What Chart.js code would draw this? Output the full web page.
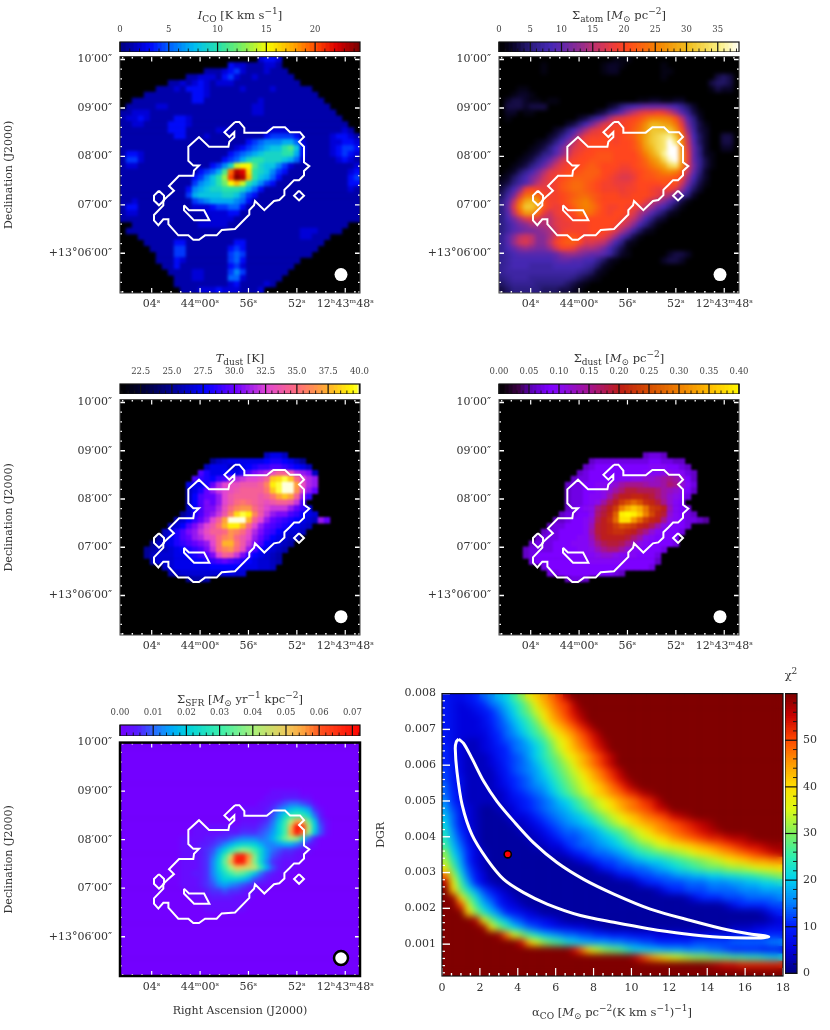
<!DOCTYPE html>
<html>
<head>
<meta charset="utf-8">
<script src="https://cdn.jsdelivr.net/npm/chart.js@4"></script>
<style>
body { margin: 0; background: #fff; width: 830px; height: 1030px; position: relative; overflow: hidden; }
canvas { position: absolute; }
.lbl { position: absolute; transform: translateX(-50%); white-space: nowrap; font: 11.5px "DejaVu Serif", serif; color: #333; }
.lbl sub, .lbl sup { font-size: 9px; line-height: 0; }
</style>
</head>
<body>
<script>
// map values, one string per row, one base-36 digit per cell (top row first)
const icoRows = [
"0000000000 0000000000 0002332000","0000000000 0000000032 2111221000","0000000000 0000111234 2111211100","0000000000 0112221342 1121111110",
"0000000011 2123212221 1111111111","0000001112 1333211111 2111121111 11","0000111111 1133211111 1111111111 111","0011111111 1133111111 1112111111 1111",
"0111112211 1111111111 1122111111 11111","1122211111 1111111111 1122111111 111111","1223211113 3211111111 1111111111 1111111","1122111133 3211111111 1111111111 11111111",
"1111111133 3111112211 1111122211 1111111210","1111111113 3111211111 1111344443 1111123321","1111111111 1111111111 1345666775 2111122332","1111111111 1111111112 3456788ab8 3111123443",
"1332111111 1111111134 5678999aa7 3111123432","1442111111 1111111345 79aa999875 2111112321","1221111111 1111134 69e ff b9886 421 1111111112","1111111111 1113457bjn mga9864311 1111111123",
"1111111111 11346 8adko nha87 53111 1111111134","1111111111 11467 8acfh ea864 31111 1111111133","1111111111 13678 99aaa 9753 111111 1111111121","1111111111 14788 88998 643 1111111 1111111111",
"1121111111 11456 77776 53 11111111 1111111111","1331111111 11222 34455 3 111111111 1111111111","1221111111 11112 22233 1111111111 1111111111","1111111111 1111122221 1111111111 1111111111",
"0011111111 1112222211 1111111111 11111111","0111111111 1111111111 1111111111 2221111","0001111111 1111111111 1111111111 22111","0000111113 3111111113 3111111111 1111",
"0000011114 4111111134 3111111111 111","0000001114 4111111145 4111111111 11","0000001113 2111111145 3111111111","0000000113 1111111134 211111111",
"0000000011 1122111146 41111111","0000000001 1122111155 2111111","0000000001 1111111123 111121","0000000000 1112223222 1112"];
const atomRows = [
"0000000000 0000000001 11","0000000100 0000000122 1000000100","0000000100 0000000122 0000000110","0000000000 0000000000 0000000100 0000003430",
"0000000000 0000000000 0000000000 0000034430","0001100000 0000000000 0000000000 0000013220","0012210000","0233211011 0000000000 0001122112 2",
"0333233300 0000000023 5789aaaa98 642","0220110000 0000002357 adfhiijigd 9631","0100000000 000235 7aeh ijklnpppol f952","0000000000 0235 8behij jklnqttsro ib631",
"0000000002 358behijjk kkmoruuuur ld732","0000000023 58bfijjkkj klmpsuvwxu of842 00330","0000001235 8bfijkkkkj kklosuvwzw pg942 00330","0000012358 behijkkkkk kklnrtvwzz qha52 00220",
"0000123569 cfijkklllk kkkmpsuxzz ria521","0001235 7ad gijkkllllk kkklnqsvyz ria631","0012357adg ijkklmlkkk jjklmoqsvw qhb631","012468behi jkklmmmkkj iijklmnpqp mga52",
"12468bdgij klmmmmlkji hhikllmmml jd842","23579cfhij lmnnmlkjji iijkkkklkl gb631","358cikjiij lmnnmlkjjj ijjkkjiijh d842","47bhnonkjj klmnnmlkkk jjkkkjigeb 852",
"59fnstrljj klnopnlkkk kkkkigec96 31","5ahpuuslji jkmopomkjj kjjhfda853 1","59fmrrnigi jjknonlkjk kjhec96421","58behihffh ijjkkkkkkk jhfc85320",
"579bceeefh iijjjkkkkj hfc853 1","579abbcdeg ijjjjkkkjh eb7421","69cfgfcceh kllkijjigd 9631","69dghfccfj lmmkhhgfc8 521",
"68acdcbbdg jjifeedb85 31","6789 99999ac ddcbaa9742 1000000233 2","6788888889 aa99886421 0000000233 2","6788877778 88887 64210",
"6777777777 7776542100","5677766666 6654321","4566665555 5432100","3455555444 3321"];
const tdustRows = ["","","","","","","","","",
"0000000000 0000000000 00008aa8","0000000000 0000068 9aa aaaabccba8 6","0000000000 00008aaa89 abcddeedcb a8","0000000000 000eca abba cegh ilnnli hg8","0000000000 00edcbdehi jkklnuvxuo kih",
"0000000000 0aaacfikll mmmnqwxzzs lih","0000000000 08acfhjklm nnnnpuxzzr khf","0000000000 08beffhkmn nnnmnpsusn hd","0000000000 08begfhkmo ponmlmnnmj e",
"0000000000 08beggiloq rromkjjjhf da","0000000000 68cegh jmqv xwqmjhgged ba9","0000000008 9bdfhknsyz ytnkhfedcb a98hf","0000000089 begikmptww tokhfedcba 98",
"0000000 89c eghjlnnorq olige dba99 8","000000 68ac efhiklo qro mkhfdba988","00000 689ac defghkottp mjgeba987","0000 67889a bcdegjoqro lheba9 87",
"0000 68999a abcdegknmj gdba9 87","00000 8999a aabbcdefed cba9987","0000000 89a aaaaabbbbb aaa998","00000000 78 9999999aa9 9","0000000000 06777"];
const sdustRows = ["","","","","","","","","",
"0000000000 0000000000 00005665","0000000000 0000056666 6666677665 5","0000000000 0000567777 7777788877 65","0000000000 0005677777 7777888998 865","0000000000 0056677777 889 9aabcdc a75",
"0000000000 0566778 89a cdddcbbced a86","0000000000 0566778 9ac eggfffecba 975","0000000000 056678 89cf hhiihgeca9 86","0000000000 0566789cfh kmomjigda8 7",
"0000000000 056789dfhk qtvtpkjhb8 76","0000000000 56677 9egin yzyvqliga8 765","0000000005 5677 8afhjo xxsokihd98 76654","0000000056 6777 8bghik mlkihfc987 76",
"0000000566 7777 8cghij jihfda8777 6","0000005666 7778 8bfhhh hgec987777","0000056667 7788 8adfgg fdb9877776","0000566667 7778 89bdee ca88777 6",
"0000567777 7777889aa9 888777 6","0000067777 7777788888 877777 5","0000000677 7777777777 777776","0000000066 7777777776 5","0000000000 05665"];
const sfrRows = ["","","","","","","","",
"0000000000 0000000000 0000011111","0000000000 0000000000 0000111222 11","0000000000 0000000000 0001123455 431","0000000000 0000000000 1111235 79a 973 1",
"0000000000 0000000000 111124 7bef eb52","0000000000 0000000000 11123 59ekr qh931","0000000000 0011111111 22234 6afqz wla41","0000000000 0011111222 33345 7afry tj941",
"0000000000 111122334 56665 68chk jc52","0000000000 111223468 abba8 66788 6421","0000000000 111234 7ae hjifb 75433 211","0000000000 111235 9fn xysib 74322 11",
"0000000000 111236 ahq yyrib 63211 1","0000000000 111236 afk ponle 84211","0000000000 112236 9cf hgd95 3211","0000000000 111235 8aa a9743 211",
"0000000000 111234 676 54321 1","0000000000 011123 343 321 1","0000000000 001112 222 111","0000000000 0000111 111 1","0000000000 0000111 111 1"];
const chiRows = [
"5445689bcf imoqsuxzzz zzzzzzzzzz zzzzzzzzzz zzzzz","54345689bd fimprtuxzz zzzzzzzzzz zzzzzzzzzz zzzzz","5433456 8ac fhknqsuwyz zzzzzzzzzz zzzzzzzzzz zzzzz","5433346 79b dfimprtvxz zzzzzzzzzz zzzzzzzzzz zzzzz",
"5433345 78a cegjnprtvx zzzzzzzzzz zzzzzzzzzz zzzzz","5433335 689 bdfhknprtv xzzzzzzzzz zzzzzzzzzz zzzzz","5432234 678 9bdfilnqsu wyzzzzzzzz zzzzzzzzzz zzzzz","6432234 568 9acehknprt vxzzzzzzzz zzzzzzzzzz zzzzz",
"6432223 567 8acegilnpr tvxzzzzzzz zzzzzzzzzz zzzzz","6532223 467 89bdfhjmpr tvxzzzzzzz zzzzzzzzzz zzzzz","7532222 457 89acegiknp rtvxzzzzzz zzzzzzzzzz zzzzz","7542222 356 78abdfhjlo qsuwyzzzzz zzzzzzzzzz zzzzz",
"8542222 346 789acegikm oqsuwyzzzz zzzzzzzzzz zzzzz","8642222 235 6789bdfhjl oprsuvxyzz zzzzzzzzzz zzzzz","9642222 234 56789bcegi kmoqrsuvxz zzzzzzzzzz zzzzz","a753211 223 56789abdfh jlnprstuwx zzzzzzzzzz zzzzz",
"b853211 123 34678 9abce gikmoprstu wxyzzzzzzz zzzzz","c853211 112 23467 89abc egikmopqrs tuvwxyzzzz zzzzz","d964211 111 22346 78 89a bdfgikmoqr stuvwxyzzz zzzzz","ea74211 111 12234 67789 abcegiklno qrstuvvwxx yzzzz",
"fb85311 111 11223 36788 9abcefhikl mnopqrstuv wwxyy","ic96321 111 11112 23567 889abdefgh ijkmnopqrs tuvwx","jea6321 111 11111 11235 67789abccd efghijkmno pqqrr","mgb7421 111 11111 11111 3567788 9ab cdefghhijj klmmn",
"sjd8531 111 11111 11111 112456 7788 9aabbccdde efghi","xmfa632 111 11111 11111 111112 466 77788 899 9aa bbccd","zohda75 321 11111 11111 11111 11124 66777 8888 99 9aaa","zynhd97 532 11111 11111 11111 11111 11246 66777 88889",
"zzukfb9 643 21111 11111 11111 11111 11111 11246 66677","zzzoieb 965 43211 11111 11111 11111 11111 11111 11246","zzzzxmh db8 75543 21111 11111 11111 11111 11111 11123","zzzzzyn ifc a8765 44332 21111 11111 11111 11122 23344",
"zzzzzzz ysl ifdba 98877 66555 44433 33333 44445 55666","zzzzzzz zzz wplig fdcba aa998 87766 66677 77788 88899","zzzzzzz zzz zzzzz zzwsn kihgecc bba aa99988 766 66555","zzzzzzz zzz zzzzz zzzzz zzzzzxurpn lkjiihggff eedcc",
"zzzzzzz zzz zzzzz zzzzz zzzzz zzzzz zzzzzyxwwv vvvvv","zzzzzzz zzz zzzzz zzzzz zzzzz zzzzz zzzzz zzzzz zzzzz"];

// colour scale stops: value, r, g, b
const icoStops = [[0,0,0,130],[1,0,0,170],[2,0,0,215],[3,0,10,250],[5,0,100,255],[7.5,0,190,240],[10,40,225,170],[12.5,130,240,90],[15,250,250,0],[17.5,255,170,0],[20,255,70,0],[22,220,0,0],[24.6,110,0,0]];
const atomStops = [[0,0,0,0],[2,10,5,40],[5,45,30,130],[8,70,40,180],[10,100,40,170],[13,150,45,140],[15,190,50,110],[18,235,60,60],[20,255,70,30],[25,245,130,0],[30,240,190,30],[35,250,240,130],[38.4,255,255,255]];
const tdustStops = [[20.85,0,0,0],[22.5,0,0,50],[25,0,0,150],[27.5,0,0,255],[30,110,0,255],[32.5,225,70,210],[35,255,110,120],[37.5,255,180,40],[39.5,255,255,0],[40.05,255,255,220]];
const sdustStops = [[0,0,0,0],[.03,60,0,70],[.05,90,0,180],[.08,125,0,255],[.1,135,10,240],[.15,165,20,140],[.2,190,30,20],[.25,215,80,0],[.3,240,130,0],[.35,255,190,0],[.4,255,250,0]];
const sfrStops = [[0,115,0,255],[.005,85,30,255],[.01,40,110,255],[.015,0,170,250],[.02,0,210,220],[.03,60,240,170],[.04,170,240,120],[.05,240,200,90],[.055,255,160,60],[.06,255,80,30],[.0723,255,0,0]];
const chiStops = [[0,0,0,130],[5,0,0,220],[10,0,30,255],[15,0,130,255],[20,0,210,240],[25,50,240,170],[30,130,240,90],[35,220,250,20],[40,255,220,0],[45,255,150,0],[50,255,70,0],[55,200,0,0],[60,120,0,0]];

// sky axes: RA seconds from 12h44m00s, Dec arcmin above +13 deg
const raTicks = [4, 0, -4, -8, -12];
const raLabels = ["04ˢ", "44ᵐ00ˢ", "56ˢ", "52ˢ", "12ʰ43ᵐ48ˢ"];
const decTicks = [10, 9, 8, 7, 6];
const decLabels = ["10′00″", "09′00″", "08′00″", "07′00″", "+13°06′00″"];

// white mask outline, RA seconds and Dec arcmin
const outerRa = [-2.89,-3.25,-3.66,-3.66,-5.51,-6.06,-7.02,-7.44,-8.26,-8.59,-8.18,-8.59,-8.59,-9.03,-8.59,-8.59,-8.18,-7.77,-7.38,-6.97,-6.97,-6.55,-6.11,-5.31,-4.54,-4.46,-4.07,-4.07,-2.89,-1.79,-1.37,-0.41,0.09,0.56,0.97,1.80,2.62,2.62,3.04,3.45,3.81,3.81,3.04,3.04,2.62,2.16,2.57,1.74,0.56,0.50,0.09,0.56,0.97,0.97,0.09,-0.74,-2.34,-2.42,-2.83,-2.83,-2.42,-2.01,-2.89];
const outerDec = [8.71,8.71,8.59,8.49,8.49,8.60,8.60,8.50,8.50,8.40,8.30,8.20,7.88,7.80,7.70,7.61,7.51,7.51,7.41,7.31,7.20,7.10,7.08,6.89,7.08,6.99,6.89,6.80,6.50,6.48,6.37,6.37,6.28,6.28,6.37,6.37,6.60,6.70,6.70,6.58,6.68,6.79,6.99,7.09,7.19,7.29,7.39,7.60,7.60,7.71,7.81,7.81,7.91,8.20,8.40,8.20,8.20,8.30,8.40,8.50,8.40,8.50,8.71];
const leftRa = [3.40,2.98,2.98,3.40,3.81,3.81,3.40];
const leftDec = [7.29,7.19,7.09,6.99,7.09,7.19,7.29];
const rightRa = [-8.18,-8.59,-8.18,-7.77,-8.18];
const rightDec = [7.29,7.19,7.09,7.19,7.29];
const innerRa = [1.33,0.92,-0.33,-0.77,0.50,1.33,1.33];
const innerDec = [6.99,6.89,6.89,6.68,6.68,6.89,6.99];

// chi-square panel
const alphaTicks = [0,2,4,6,8,10,12,14,16,18];
const dgrTicks = [.001,.002,.003,.004,.005,.006,.007,.008];
const dgrLabels = ["0.001","0.002","0.003","0.004","0.005","0.006","0.007","0.008"];
const loopAlpha = [.88,1.14,1.58,2.20,2.90,3.79,4.84,6.07,7.48,9.07,11.0,13.12,15.05,16.46,17.25,16.46,14.70,12.76,10.83,9.07,7.31,5.55,4.31,3.26,2.38,1.58,1.06,.79,.70,.76,.88];
const loopDgr = [.00673,.00661,.00619,.00555,.00499,.00443,.00383,.00328,.00281,.00240,.00198,.00166,.00140,.00127,.00121,.00117,.00119,.00129,.00144,.00161,.00180,.00212,.00244,.00281,.00337,.00406,.00490,.00582,.00647,.00666,.00673];
const bestAlpha = [3.47];
const bestDgr = [.00351];

// colour bar ticks
const icoBarTicks = [0,5,10,15,20];
const atomBarTicks = [0,5,10,15,20,25,30,35];
const tdustBarTicks = [22.5,25,27.5,30,32.5,35,37.5,40];
const sdustBarTicks = [0,.05,.1,.15,.2,.25,.3,.35,.4];
const sfrBarTicks = [0,.01,.02,.03,.04,.05,.06,.07];
const chiBarTicks = [0,10,20,30,40,50];

const serif = '"DejaVu Serif", serif';
const textColor = '#333';

function colorAt(stops, v) {
    if (v <= stops[0][0]) return `rgb(${stops[0].slice(1)})`;
    for (let i = 1; i < stops.length; i++) {
        if (v <= stops[i][0]) {
            const a = stops[i - 1], b = stops[i], t = (v - a[0]) / (b[0] - a[0]);
            return `rgb(${[1, 2, 3].map(k => Math.round(a[k] + (b[k] - a[k]) * t))})`;
        }
    }
    return `rgb(${stops[stops.length - 1].slice(1)})`;
}

// turn digit rows into scatter cells centred in the grid
function cells(rows, nCols, nRows, box, decode, keepZero) {
    const pts = [];
    for (let r = 0; r < nRows; r++) {
        const row = (rows[r] || '').replace(/ /g, '');
        for (let c = 0; c < nCols; c++) {
            const d = parseInt(row[c] || '0', 36);
            if (!d && !keepZero) continue;
            pts.push({
                x: box.left + (c + .5) * (box.right - box.left) / nCols,
                y: box.top + (r + .5) * (box.bottom - box.top) / nRows,
                v: decode(d)
            });
        }
    }
    return pts;
}

function addCanvas(left, top, w, h) {
    const c = document.createElement('canvas');
    c.width = w; c.height = h;
    c.style.left = left + 'px'; c.style.top = top + 'px';
    c.style.width = w + 'px'; c.style.height = h + 'px';
    document.body.appendChild(c);
    return c;
}

function addLabel(html, x, y) {
    const d = document.createElement('div');
    d.className = 'lbl';
    d.innerHTML = html;
    d.style.left = x + 'px'; d.style.top = y + 'px';
    document.body.appendChild(d);
}

// minor tick positions between lo and hi, plus the labelled ones
function withMinor(major, step, lo, hi) {
    const out = major.slice();
    const base = major[0];
    for (let i = -100; i < 100; i++) {
        const v = base + i * step;
        if (v > lo && v < hi && !major.some(m => Math.abs(m - v) < step / 10)) out.push(v);
    }
    return out.sort((a, b) => a - b).map(v => ({ value: v }));
}

// black backing, soft cell edges, inward ticks and frame
function decorPlugin(sides, majorLen, minorLen, frameColor, frameWidth, blur) {
    return {
        id: 'decor',
        beforeDraw(chart) {
            const a = chart.chartArea;
            chart.ctx.fillStyle = '#000';
            chart.ctx.fillRect(a.left, a.top, a.width, a.height);
        },
        afterDatasetDraw(chart, args) {
            if (args.index !== chart.data.datasets.length - 1) return;
            const ctx = chart.ctx, a = chart.chartArea;
            ctx.save();
            ctx.beginPath();
            ctx.rect(a.left, a.top, a.width, a.height);
            ctx.clip();
            ctx.filter = `blur(${blur}px)`;
            ctx.drawImage(chart.canvas, 0, 0);
            ctx.restore();
        },
        afterDatasetsDraw(chart) {
            const ctx = chart.ctx, a = chart.chartArea;
            ctx.save();
            ctx.strokeStyle = '#fff';
            chart.scales.x.ticks.forEach((t, i) => {
                const p = chart.scales.x.getPixelForTick(i), len = t.label ? majorLen : minorLen;
                ctx.lineWidth = t.label ? 1.2 : 1.4;
                ctx.beginPath();
                ctx.moveTo(p, a.bottom); ctx.lineTo(p, a.bottom - len);
                if (sides.top) { ctx.moveTo(p, a.top); ctx.lineTo(p, a.top + len); }
                ctx.stroke();
            });
            chart.scales.y.ticks.forEach((t, i) => {
                const p = chart.scales.y.getPixelForTick(i), len = t.label ? majorLen : minorLen;
                ctx.lineWidth = t.label ? 1.4 : 1.2;
                ctx.beginPath();
                ctx.moveTo(a.left, p); ctx.lineTo(a.left + len, p);
                if (sides.right) { ctx.moveTo(a.right, p); ctx.lineTo(a.right - len, p); }
                ctx.stroke();
            });
            ctx.strokeStyle = frameColor;
            ctx.lineWidth = frameWidth;
            ctx.strokeRect(a.left, a.top, a.width, a.height);
            ctx.restore();
        }
    };
}

function mapPanel(opt) {
    const h = opt.bottomY - opt.topY;
    const pad = 10, below = opt.xTitle ? 50 : 28;
    const canvas = addCanvas(opt.left - 120, opt.topY - pad, 120 + 240 + 35, pad + h + below);
    const box = { left: 6.62, right: -13.22, top: opt.decTop, bottom: opt.decBottom };
    const pts = cells(opt.rows, 40, 40, box, opt.decode, opt.keepZero);
    const cellR = 6 / Math.SQRT2 + .3;
    const outline = (ra, dec) => ({
        type: 'scatter', showLine: true, tension: 0, borderColor: '#fff', borderWidth: 2,
        pointRadius: 0, data: ra.map((v, i) => ({ x: v, y: dec[i] }))
    });
    new Chart(canvas, {
        type: 'scatter',
        data: {
            datasets: [
                { data: [{ x: -11.65, y: 5.56 }], pointRadius: opt.beamRing ? 7 : 6.5, pointBackgroundColor: '#fff',
                  pointBorderColor: opt.beamRing ? '#000' : '#fff', pointBorderWidth: opt.beamRing ? 2.5 : 0 },
                outline(outerRa, outerDec), outline(leftRa, leftDec), outline(rightRa, rightDec), outline(innerRa, innerDec),
                { data: pts, pointStyle: 'rect', pointRadius: cellR, pointBorderWidth: 0,
                  pointBackgroundColor: pts.map(p => colorAt(opt.stops, p.v)) }
            ]
        },
        options: {
            responsive: false, animation: false, events: [], devicePixelRatio: 1,
            layout: { padding: { top: pad, right: 35 } },
            plugins: { legend: { display: false }, tooltip: { enabled: false } },
            scales: {
                x: {
                    type: 'linear', reverse: true, min: -13.22, max: 6.62,
                    afterBuildTicks: s => { s.ticks = withMinor(raTicks, .8, -13.22, 6.62); },
                    afterFit: s => { s.height = below; },
                    grid: { display: false, drawTicks: false }, border: { display: false },
                    title: { display: !!opt.xTitle, text: opt.xTitle, color: textColor, font: { family: serif, size: 11 }, padding: { top: 0, bottom: 8 } },
                    ticks: { autoSkip: false, maxRotation: 0, padding: 5, color: textColor, font: { family: serif, size: 11 },
                        callback: v => raLabels[raTicks.indexOf(v)] || '' }
                },
                y: {
                    type: 'linear', min: opt.decBottom, max: opt.decTop,
                    afterBuildTicks: s => { s.ticks = withMinor(decTicks, .2, opt.decBottom, opt.decTop); },
                    afterFit: s => { s.width = 120; },
                    grid: { display: false, drawTicks: false }, border: { display: false },
                    title: { display: !!opt.yTitle, text: opt.yTitle, color: textColor, font: { family: serif, size: 11 }, padding: { top: 3, bottom: 0 } },
                    ticks: { autoSkip: false, padding: 8, color: textColor, font: { family: serif, size: 11 },
                        callback: v => decLabels[decTicks.indexOf(v)] || '' }
                }
            }
        },
        plugins: [decorPlugin({ top: true, right: true }, 5, 2, opt.frameColor, opt.frameWidth, opt.blur)]
    });
}

// floating-bar colour strip, one small bar per colour step
function barDatasets(stops, lo, hi, n) {
    const step = (hi - lo) / n, sets = [];
    for (let i = 0; i < n; i++) {
        const a = lo + i * step;
        sets.push({ data: [[a, Math.min(a + step * 1.3, hi)]], backgroundColor: colorAt(stops, a + step / 2),
            barPercentage: 1, categoryPercentage: 1, grouped: false, borderWidth: 0 });
    }
    return sets;
}

function topBar(opt) {
    const canvas = addCanvas(opt.left - 20, opt.top - 20, 280, 20 + opt.height);
    new Chart(canvas, {
        type: 'bar',
        data: { labels: [''], datasets: barDatasets(opt.stops, opt.min, opt.max, 60) },
        options: {
            indexAxis: 'y', responsive: false, animation: false, events: [], devicePixelRatio: 1,
            layout: { padding: { left: 20, right: 20 } },
            plugins: { legend: { display: false }, tooltip: { enabled: false } },
            scales: {
                x: {
                    type: 'linear', position: 'top', min: opt.min, max: opt.max,
                    afterBuildTicks: s => { s.ticks = withMinor(opt.ticks, opt.minor, opt.min, opt.max); },
                    afterFit: s => { s.height = 20; },
                    grid: { display: false, drawTicks: false }, border: { display: false },
                    ticks: { autoSkip: false, maxRotation: 0, padding: 7, color: '#444', font: { family: serif, size: 8.5 },
                        callback: v => (opt.ticks.includes(v) ? v.toFixed(opt.decimals) : '') }
                },
                y: { type: 'category', display: false }
            }
        },
        plugins: [{
            id: 'barTicks',
            afterDatasetsDraw(chart) {
                const ctx = chart.ctx, a = chart.chartArea, s = chart.scales.x;
                ctx.save();
                ctx.strokeStyle = '#111';
                s.ticks.forEach((t, i) => {
                    const p = s.getPixelForTick(i);
                    ctx.lineWidth = t.label ? 1.2 : .9;
                    ctx.beginPath();
                    ctx.moveTo(p, a.bottom);
                    ctx.lineTo(p, t.label ? a.top : a.bottom - 3.5);
                    ctx.stroke();
                });
                ctx.lineWidth = 1.2;
                ctx.strokeRect(a.left, a.top, a.width, a.height);
                ctx.restore();
            }
        }]
    });
}

// map panels
const skyRange = { decTop: 10.06, decBottom: 5.18 };
mapPanel({ left: 120, topY: 52, bottomY: 293, ...skyRange, rows: icoRows, stops: icoStops, decode: d => d, blur: 1.6, frameColor: '#333', frameWidth: 1, yTitle: 'Declination (J2000)' });
mapPanel({ left: 499, topY: 52, bottomY: 293, ...skyRange, rows: atomRows, stops: atomStops, decode: d => (d <= 28 ? d : 28 + (d - 28) * 1.49), blur: 2.2, frameColor: '#444', frameWidth: 1 });
mapPanel({ left: 120, topY: 395, bottomY: 635, ...skyRange, rows: tdustRows, stops: tdustStops, decode: d => (d <= 10 ? 22 + d * .5 : 27 + (d - 10) * .55), blur: 1.2, frameColor: '#444', frameWidth: 1, yTitle: 'Declination (J2000)' });
mapPanel({ left: 499, topY: 395, bottomY: 635, ...skyRange, rows: sdustRows, stops: sdustStops, decode: d => d * .0115, blur: 1.2, frameColor: '#444', frameWidth: 1 });
mapPanel({ left: 120, topY: 738, bottomY: 976, decTop: 10.0, decBottom: 5.19, rows: sfrRows, stops: sfrStops, decode: d => d * .002, keepZero: true, beamRing: true, blur: 2.2, frameColor: '#000', frameWidth: 2.5, yTitle: 'Declination (J2000)', xTitle: 'Right Ascension (J2000)' });

topBar({ left: 120, top: 42, height: 10, stops: icoStops, min: 0, max: 24.6, ticks: icoBarTicks, minor: 1, decimals: 0 });
topBar({ left: 499, top: 42, height: 10, stops: atomStops, min: 0, max: 38.4, ticks: atomBarTicks, minor: 1, decimals: 0 });
topBar({ left: 120, top: 384, height: 10, stops: tdustStops, min: 20.85, max: 40.05, ticks: tdustBarTicks, minor: .5, decimals: 1 });
topBar({ left: 499, top: 384, height: 10, stops: sdustStops, min: 0, max: .4, ticks: sdustBarTicks, minor: .01, decimals: 2 });
topBar({ left: 120, top: 725, height: 11, stops: sfrStops, min: 0, max: .0723, ticks: sfrBarTicks, minor: .002, decimals: 2 });

addLabel('<i>I</i><sub>CO</sub> [K km s<sup>−1</sup>]', 240, 8);
addLabel('Σ<sub>atom</sub> [<i>M</i><sub>⊙</sub> pc<sup>−2</sup>]', 619, 8);
addLabel('<i>T</i><sub>dust</sub> [K]', 240, 351);
addLabel('Σ<sub>dust</sub> [<i>M</i><sub>⊙</sub> pc<sup>−2</sup>]', 619, 351);
addLabel('Σ<sub>SFR</sub> [<i>M</i><sub>⊙</sub> yr<sup>−1</sup> kpc<sup>−2</sup>]', 240, 692);

// chi-square map
(function () {
    const canvas = addCanvas(372, 681, 70 + 341 + 15, 10 + 285 + 50);
    const box = { left: 0, right: 18, top: .008, bottom: .00011 };
    const pts = cells(chiRows, 45, 38, box, d => d * 1.7, true);
    new Chart(canvas, {
        type: 'scatter',
        data: {
            datasets: [
                { data: bestAlpha.map((v, i) => ({ x: v, y: bestDgr[i] })), pointRadius: 3.6, pointBackgroundColor: '#f00', pointBorderColor: '#000', pointBorderWidth: 1.6 },
                { showLine: true, tension: .3, borderColor: '#fff', borderWidth: 3, pointRadius: 0, data: loopAlpha.map((v, i) => ({ x: v, y: loopDgr[i] })) },
                { data: pts, pointStyle: 'rect', pointRadius: 7.6 / Math.SQRT2 + .3, pointBorderWidth: 0, pointBackgroundColor: pts.map(p => colorAt(chiStops, p.v)) }
            ]
        },
        options: {
            responsive: false, animation: false, events: [], devicePixelRatio: 1,
            layout: { padding: { top: 10, right: 15 } },
            plugins: { legend: { display: false }, tooltip: { enabled: false } },
            scales: {
                x: {
                    type: 'linear', min: 0, max: 18,
                    afterBuildTicks: s => { s.ticks = withMinor(alphaTicks, .5, 0, 18); },
                    afterFit: s => { s.height = 50; },
                    grid: { display: false, drawTicks: false }, border: { display: false },
                    ticks: { autoSkip: false, maxRotation: 0, padding: 6, color: textColor, font: { family: serif, size: 11 },
                        callback: v => (alphaTicks.includes(v) ? String(v) : '') }
                },
                y: {
                    type: 'linear', min: .00011, max: .008,
                    afterBuildTicks: s => { s.ticks = withMinor(dgrTicks, .0002, .00011, .008); },
                    afterFit: s => { s.width = 70; },
                    grid: { display: false, drawTicks: false }, border: { display: false },
                    title: { display: true, text: 'DGR', color: textColor, font: { family: serif, size: 11 }, padding: { top: 3, bottom: 0 } },
                    ticks: { autoSkip: false, padding: 6, color: textColor, font: { family: serif, size: 11 },
                        callback: v => dgrLabels[dgrTicks.indexOf(v)] || '' }
                }
            }
        },
        plugins: [decorPlugin({ top: false, right: false }, 8, 3, '#111', 1.2, 3.5)]
    });
    addLabel('α<sub>CO</sub> [<i>M</i><sub>⊙</sub> pc<sup>−2</sup>(K km s<sup>−1</sup>)<sup>−1</sup>]', 612, 1005);
    addLabel('χ<sup>2</sup>', 791, 668);

    // vertical chi-square colour bar
    const barCanvas = addCanvas(785, 681, 45, 305);
    new Chart(barCanvas, {
        type: 'bar',
        data: { labels: [''], datasets: barDatasets(chiStops, 0, 60, 120) },
        options: {
            responsive: false, animation: false, events: [], devicePixelRatio: 1,
            layout: { padding: { top: 10, bottom: 10 } },
            plugins: { legend: { display: false }, tooltip: { enabled: false } },
            scales: {
                x: { type: 'category', display: false },
                y: {
                    type: 'linear', position: 'right', min: 0, max: 60,
                    afterBuildTicks: s => { s.ticks = withMinor(chiBarTicks, 2, 0, 60); },
                    afterFit: s => { s.width = 33; },
                    grid: { display: false, drawTicks: false }, border: { display: false },
                    ticks: { autoSkip: false, padding: 6, color: textColor, font: { family: serif, size: 11 },
                        callback: v => (chiBarTicks.includes(v) ? String(v) : '') }
                }
            }
        },
        plugins: [{
            id: 'barTicks',
            afterDatasetsDraw(chart) {
                const ctx = chart.ctx, a = chart.chartArea, s = chart.scales.y;
                ctx.save();
                ctx.strokeStyle = '#111';
                s.ticks.forEach((t, i) => {
                    const p = s.getPixelForTick(i);
                    ctx.lineWidth = t.label ? 1.2 : .9;
                    ctx.beginPath();
                    ctx.moveTo(a.right, p);
                    ctx.lineTo(t.label ? a.left : a.right - 4, p);
                    ctx.stroke();
                });
                ctx.lineWidth = 1.2;
                ctx.strokeRect(a.left, a.top, a.width, a.height);
                ctx.restore();
            }
        }]
    });
})();
</script>
</body>
</html>
